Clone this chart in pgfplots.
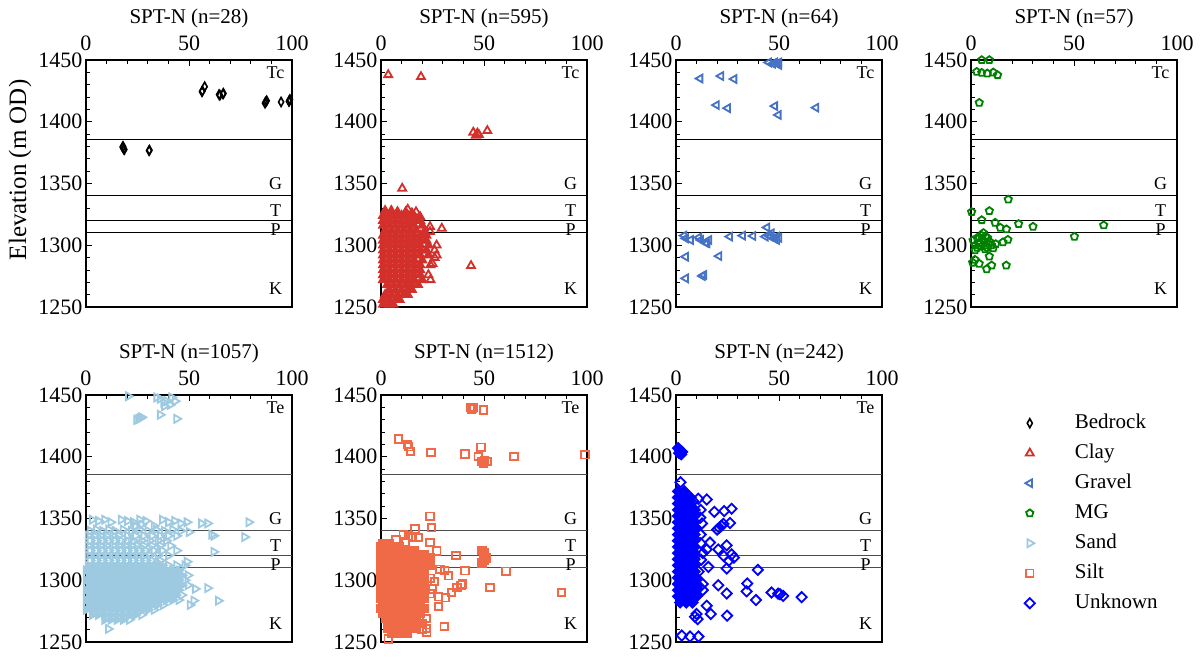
\documentclass[border=0pt]{standalone}
\usepackage{fontspec}
\setmainfont{Liberation Serif}
\usepackage{pgfplots}
\pgfplotsset{compat=1.18}
\definecolor{cBed}{HTML}{000000}
\definecolor{cClay}{HTML}{D3302B}
\definecolor{cGravel}{HTML}{4472C4}
\definecolor{cMG}{HTML}{008000}
\definecolor{cSand}{HTML}{9ECAE1}
\definecolor{cSilt}{HTML}{F06A48}
\definecolor{cUnk}{HTML}{0000FF}
\newcommand{\fs}[1]{\fontsize{#1}{#1}\selectfont}
\pgfplotsset{
  spt/.style={scale only axis,width=206pt,height=247pt,
    xmin=0,xmax=100,ymin=1250,ymax=1450,
    xtick={0,50,100},ytick={1250,1300,...,1450},
    minor x tick num=4,minor y tick num=4,
    xtick pos=right,xticklabel pos=right,ytick pos=left,
    tick align=inside,major tick length=6pt,minor tick length=4pt,
    axis line style={line width=1.2pt},tick style={line width=0.9pt,black},
    /pgf/number format/assume math mode=true,/pgf/number format/1000 sep={},
    xticklabel={\pgfmathprintnumber{\tick}},yticklabel={\pgfmathprintnumber{\tick}},
    ticklabel style={font=\rmfamily\fs{22}},
    xticklabel style={yshift=6pt},
    title style={font=\fs{21},at={(0.5,1)},anchor=base,yshift=31pt}},
  mBed/.style={only marks,mark=diamond,mark size=4.5pt,mark options={xscale=0.75,draw=cBed,line width=1.6pt}},
  mClay/.style={only marks,mark=triangle,mark size=4.6pt,mark options={draw=cClay,line width=1.8pt}},
  mClayF/.style={only marks,mark=triangle*,mark size=4.6pt,mark options={draw=cClay,fill=cClay,line width=1.8pt}},
  mGravel/.style={only marks,mark=triangle,mark size=4.5pt,mark options={rotate=90,draw=cGravel,line width=1.8pt}},
  mMG/.style={only marks,mark=pentagon,mark size=3.8pt,mark options={draw=cMG,line width=1.8pt}},
  mSand/.style={only marks,mark=triangle,mark size=4.6pt,mark options={rotate=-90,draw=cSand,line width=1.8pt}},
  mSandF/.style={only marks,mark=triangle*,mark size=4.6pt,mark options={rotate=-90,draw=cSand,fill=cSand,line width=1.8pt}},
  mSilt/.style={only marks,mark=square,mark size=3.7pt,mark options={draw=cSilt,line width=1.8pt}},
  mSiltF/.style={only marks,mark=square*,mark size=3.7pt,mark options={draw=cSilt,fill=cSilt,line width=1.8pt}},
  mUnk/.style={only marks,mark=square,mark size=3.6pt,mark options={rotate=45,draw=cUnk,line width=1.8pt}},
  mUnkF/.style={only marks,mark=square*,mark size=3.6pt,mark options={rotate=45,draw=cUnk,fill=cUnk,line width=1.8pt}},
}
\tikzset{lab/.style={font=\fs{18},inner sep=0pt}}
\newcommand{\strata}[2]{%
  \addplot[draw=#2,line width=0.9pt] coordinates {(0,1386)(100,1386)};
  \addplot[draw=#2,line width=0.9pt] coordinates {(0,1340)(100,1340)};
  \addplot[draw=#2,line width=0.9pt] coordinates {(0,1320)(100,1320)};
  \addplot[draw=#2,line width=0.9pt] coordinates {(0,1310)(100,1310)};
  \node[lab] at (axis cs:92,1440){#1};
  \node[lab] at (axis cs:92,1350){G};
  \node[lab] at (axis cs:92,1328){T};
  \node[lab] at (axis cs:92,1313){P};
  \node[lab] at (axis cs:92,1265){K};
}
\begin{document}
\begin{tikzpicture}
\path[use as bounding box] (0,0) rectangle (1202pt,-659pt);
% Bedrock
\begin{axis}[spt,at={(86pt,-60pt)},anchor=north west,title={SPT-N (n=28)},
  ylabel={Elevation (m OD)},ylabel style={font=\fs{25},at={(axis description cs:-0.32,0.555)},anchor=center}]
\addplot[mBed] coordinates {(17.8,1379.5)(18.3,1378)(18.6,1377.5)(18.0,1380)(30.6,1376.6)(30.8,1377)
 (56.3,1424.3)(57.6,1428.4)(56.5,1425)(64.6,1422)(66.7,1423)(65,1421.5)(66.5,1422.5)
 (86.9,1415)(87.7,1417)(87.2,1416)(94.7,1416)(98.7,1417)(99,1418)(98.5,1416.5)};
\strata{Tc}{black}
\end{axis}
% Clay
\begin{axis}[spt,at={(381pt,-60pt)},anchor=north west,title={SPT-N (n=595)}]
\addplot[mClayF] coordinates {
 (2,1328)(5,1328)(8,1327)(12,1327)(15,1326)
 (1,1324)(4,1324)(7,1324)(10,1324)(13,1324)(16,1324)(19,1323)
 (1,1320)(4,1320)(7,1320)(10,1320)(13,1320)(16,1320)(19,1320)
 (1,1316)(4,1316)(7,1316)(10,1316)(13,1316)(16,1316)(20,1316)
 (2,1312)(5,1312)(8,1312)(11,1312)(14,1312)(17,1312)(21,1311)
 (1,1308)(4,1308)(7,1308)(10,1308)(13,1308)(16,1308)(19,1308)(22,1308)
 (1,1304)(4,1304)(7,1304)(10,1304)(13,1304)(16,1304)(19,1304)(22,1304)
 (1,1300)(4,1300)(7,1300)(10,1300)(13,1300)(16,1300)(19,1300)(23,1300)
 (1,1296)(4,1296)(7,1296)(10,1296)(13,1296)(16,1296)(19,1296)(22,1296)
 (1,1292)(4,1292)(7,1292)(10,1292)(13,1292)(16,1292)(19,1292)(23,1292)
 (1,1288)(4,1288)(7,1288)(10,1288)(13,1288)(16,1288)(20,1288)
 (1,1284)(4,1284)(7,1284)(10,1284)(13,1284)(16,1284)(19,1284)
 (1,1280)(4,1280)(7,1280)(10,1280)(13,1280)(16,1280)(19,1280)
 (1,1276)(4,1276)(7,1276)(10,1276)(13,1276)(16,1276)(19,1276)
 (1,1272)(4,1272)(7,1272)(10,1272)(13,1272)(16,1272)(20,1272)
 (3,1268)(6,1268)(9,1268)(12,1268)(15,1268)(18,1268)
 (4,1264)(7,1264)(10,1264)(13,1264)(15,1264)
 (2,1260)(5,1260)(8,1260)(11,1260)(13,1260)
 (1,1256)(4,1256)(7,1256)(9,1256)
 (1,1252)(4,1252)(6,1252)};
\addplot[mClay] coordinates {
 (3.5,1438)(19.4,1436.4)(44.8,1391.4)(46.8,1390.6)(51.6,1392.7)(46.1,1389)(47.5,1389.5)
 (10.3,1346)(43.7,1283.4)(23.8,1315)(29.5,1313.6)(23.8,1311)(27,1300)(26,1296)(27,1292)(26,1290)
 (25,1285)(24,1284)(23,1276)(24,1272)(14,1266)(17,1327)(13,1329)};
\strata{Tc}{black}
\end{axis}
% Gravel
\begin{axis}[spt,at={(676pt,-60pt)},anchor=north west,title={SPT-N (n=64)}]
\addplot[mGravel] coordinates {
 (11.7,1435)(21.8,1437)(28.2,1434.6)(19.7,1413.5)(25.1,1411)(48,1412.7)(49.7,1405.5)(68,1411.4)
 (45,1448)(47,1447)(48,1448)(49,1447)(50,1446)(50,1448)
 (3.9,1307.8)(4.7,1305.6)(7.1,1304.3)(11.1,1306.3)(12,1304.3)(14.4,1302)(16,1304.3)(15.2,1301.6)
 (26.1,1307)(32.4,1307.8)(37.4,1307.5)(43.4,1307)(44.2,1314.4)(45.8,1307)(47.5,1305.6)(49,1307)
 (49,1304.3)(44.8,1308.3)(46.4,1309.7)(48,1306)(50,1306)
 (4.7,1290.7)(20.9,1291.2)(4.7,1273.2)(12.8,1275.1)(13.6,1276)};
\strata{Tc}{black}
\end{axis}
% MG
\begin{axis}[spt,at={(971pt,-60pt)},anchor=north west,title={SPT-N (n=57)}]
\addplot[mMG] coordinates {
 (5.2,1450)(8.9,1450)(2.8,1440.5)(5.2,1439.7)(7.9,1439.2)(10.8,1440)(12.9,1437.8)(4,1415.4)
 (18.1,1337.1)(0.3,1327)(8.9,1327.8)(5.2,1320.4)(11.7,1318.3)(14.2,1314.3)(17.2,1313)
 (23.1,1317.3)(30.1,1315.1)(64.4,1316.2)(50.2,1307)
 (1,1304)(2,1300)(3,1306)(4,1302)(5,1308)(6,1304)(7,1300)(8,1306)(9,1303)(3,1298)(5,1299)
 (10,1300)(12,1301)(6,1310)(2,1296)(8,1298)(4,1306)(7,1307)
 (15.5,1302.5)(17.9,1304.5)(10.8,1297.7)(6.8,1296.9)
 (8.9,1291)(1.9,1288.3)(4,1285.1)(7.6,1280.7)(10,1283.7)(17.1,1283.7)(0.8,1286)};
\strata{Tc}{black}
\end{axis}
% Sand
\begin{axis}[spt,at={(86pt,-395pt)},anchor=north west,title={SPT-N (n=1057)}]
\addplot[mSand] coordinates {
 (20.5,1449)(34.3,1448)(36,1447)(39.2,1445)(40.8,1442)(43.2,1445)(37.6,1444)(41.6,1448)(38,1441)
 (26.2,1431.2)(24.6,1429.9)(27,1432)(25.5,1430.5)(36,1434)(44,1430.7)
 (3,1349)(6,1348)(9,1349)(12,1347)(17,1349)(20,1348)(23,1347)(26,1349)(29,1348)(37,1349)(40,1347)
 (43,1348)(46,1346)(49,1347)(24,1344)(27,1345)(33,1344)(56,1346)(59,1346)(79,1347)
 (2,1340)(5,1341)(8,1340)(11,1341)(14,1340)(18,1341)(22,1340)(26,1341)(30,1340)(34,1341)(38,1340)
 (42,1341)(46,1340)(50,1339)(62,1336)(77,1335)(61,1337)
 (1,1336)(4,1336)(7,1336)(10,1336)(13,1336)(16,1336)(20,1336)(24,1336)(28,1336)(32,1336)(36,1336)(40,1336)(44,1336)
 (2,1332)(5,1332)(8,1332)(11,1332)(14,1332)(17,1332)(20,1332)(23,1332)(27,1332)(31,1332)(35,1332)(39,1332)
 (1,1328)(4,1328)(7,1328)(10,1328)(13,1328)(16,1328)(19,1328)(22,1328)(25,1328)(28,1328)(32,1328)(36,1328)(41,1328)
 (2,1324)(5,1324)(8,1324)(11,1324)(14,1324)(17,1324)(20,1324)(23,1324)(26,1324)(29,1324)(33,1324)(37,1324)(44,1324)(62,1323)
 (1,1320)(4,1320)(7,1320)(10,1320)(13,1320)(16,1320)(19,1320)(22,1320)(25,1320)(28,1320)(31,1320)(35,1320)(40,1320)
 (2,1316)(5,1316)(8,1316)(11,1316)(14,1316)(17,1316)(20,1316)(23,1316)(26,1316)(29,1316)(32,1316)(36,1316)(49,1315)
 (40,1312)(44,1312)(48,1312)(53,1293)(59,1293.6)(52.3,1283.5)(64.2,1283.4)(50.5,1280)(10.8,1260.6)
 (49.5,1304)(49.5,1296)(48,1300)(46.5,1288)(45,1284)(37.5,1280)(33,1276)(27,1272)(21,1268)};
\addplot[mSandF] coordinates {
 (1,1312)(4,1312)(7,1312)(10,1312)(13,1312)(16,1312)(19,1312)(22,1312)(25,1312)(28,1312)(31,1312)(34,1312)(37,1312)
 (0,1308)(3,1308)(6,1308)(9,1308)(12,1308)(15,1308)(18,1308)(21,1308)(24,1308)(27,1308)(30,1308)(33,1308)(36,1308)(39,1308)(42,1308)(45,1308)
 (1.5,1304)(4.5,1304)(7.5,1304)(10.5,1304)(13.5,1304)(16.5,1304)(19.5,1304)(22.5,1304)(25.5,1304)(28.5,1304)(31.5,1304)(34.5,1304)(37.5,1304)(40.5,1304)(43.5,1304)(46.5,1304)
 (0,1300)(3,1300)(6,1300)(9,1300)(12,1300)(15,1300)(18,1300)(21,1300)(24,1300)(27,1300)(30,1300)(33,1300)(36,1300)(39,1300)(42,1300)(45,1300)
 (1.5,1296)(4.5,1296)(7.5,1296)(10.5,1296)(13.5,1296)(16.5,1296)(19.5,1296)(22.5,1296)(25.5,1296)(28.5,1296)(31.5,1296)(34.5,1296)(37.5,1296)(40.5,1296)(43.5,1296)(46.5,1296)
 (0,1292)(3,1292)(6,1292)(9,1292)(12,1292)(15,1292)(18,1292)(21,1292)(24,1292)(27,1292)(30,1292)(33,1292)(36,1292)(39,1292)(42,1292)(45,1292)
 (1.5,1288)(4.5,1288)(7.5,1288)(10.5,1288)(13.5,1288)(16.5,1288)(19.5,1288)(22.5,1288)(25.5,1288)(28.5,1288)(31.5,1288)(34.5,1288)(37.5,1288)(40.5,1288)(43.5,1288)
 (0,1284)(3,1284)(6,1284)(9,1284)(12,1284)(15,1284)(18,1284)(21,1284)(24,1284)(27,1284)(30,1284)(33,1284)(36,1284)(39,1284)(42,1284)
 (1.5,1280)(4.5,1280)(7.5,1280)(10.5,1280)(13.5,1280)(16.5,1280)(19.5,1280)(22.5,1280)(25.5,1280)(28.5,1280)(31.5,1280)(34.5,1280)
 (0,1276)(3,1276)(6,1276)(9,1276)(12,1276)(15,1276)(18,1276)(21,1276)(24,1276)(27,1276)(30,1276)
 (3,1272)(6,1272)(9,1272)(12,1272)(15,1272)(18,1272)(21,1272)(24,1272)
 (9,1268)(12,1268)(15,1268)(18,1268)};
\strata{Te}{black!70}
\end{axis}
% Silt
\begin{axis}[spt,at={(381pt,-395pt)},anchor=north west,title={SPT-N (n=1512)}]
\addplot[mSilt] coordinates {
 (43.5,1440)(44.5,1439)(45,1440)(44,1438.5)(49.7,1437.9)
 (8.4,1414.3)(12.9,1409.7)(13.5,1408)(14.4,1404.3)(24.3,1403.5)(40.8,1402.2)(48.5,1407.8)(47.2,1400.3)
 (48.7,1396.3)(50.3,1397)(51.5,1396.3)(49.7,1395)(64.6,1400.3)(99,1401.6)
 (23.8,1351.9)(24.6,1342.5)(16.5,1341.7)(10.8,1337.2)(7.3,1333)(13.3,1336)(15.2,1334.6)(18.1,1334.6)
 (11.8,1330.6)(23.8,1330.6)(27.1,1323.7)(36.4,1320.2)
 (28.6,1309)(31,1308)(40.8,1307.6)(60.7,1307.4)(32.7,1303.6)(23.8,1301.7)(38.8,1296)(36.9,1294)
 (34.3,1290)(31.2,1285.8)(28,1286.6)(28,1278.8)(30.7,1262.7)(22.2,1257.9)(19.9,1260.6)(3.5,1252.5)
 (52.9,1294.1)(87.7,1290)(39.4,1297)(26,1299)(25,1293)(24,1289)(22,1269)(22,1261)};
\addplot[mSiltF] coordinates {
 (49,1324)(50,1320)(50,1316)(49,1314)(51,1318)(50,1322)
 (1,1330)(4,1330)
 (0,1327)(3,1327)(6,1327)(9,1327)
 (1,1324)(4,1324)(7,1324)(10,1324)(13,1324)(16,1324)
 (0,1321)(3,1321)(6,1321)(9,1321)(12,1321)(15,1321)(18,1321)(21,1321)
 (1,1318)(4,1318)(7,1318)(10,1318)(13,1318)(16,1318)(19,1318)(22,1318)(24,1318)
 (0,1315)(3,1315)(6,1315)(9,1315)(12,1315)(15,1315)(18,1315)(21,1315)(24,1315)
 (1,1312)(4,1312)(7,1312)(10,1312)(13,1312)(16,1312)(19,1312)(22,1312)(24,1312)
 (0,1309)(3,1309)(6,1309)(9,1309)(12,1309)(15,1309)(18,1309)(21,1309)
 (1,1305)(4,1305)(7,1305)(10,1305)(13,1305)(16,1305)(19,1305)
 (0,1301)(3,1301)(6,1301)(9,1301)(12,1301)(15,1301)(18,1301)(21,1301)
 (1,1297)(4,1297)(7,1297)(10,1297)(13,1297)(16,1297)(19,1297)
 (0,1293)(3,1293)(6,1293)(9,1293)(12,1293)(15,1293)(18,1293)(21,1293)
 (1,1289)(4,1289)(7,1289)(10,1289)(13,1289)(16,1289)(19,1289)
 (0,1285)(3,1285)(6,1285)(9,1285)(12,1285)(15,1285)(18,1285)(21,1285)
 (1,1281)(4,1281)(7,1281)(10,1281)(13,1281)(16,1281)(19,1281)
 (0,1277)(3,1277)(6,1277)(9,1277)(12,1277)(15,1277)(18,1277)(21,1277)
 (1,1273)(4,1273)(7,1273)(10,1273)(13,1273)(16,1273)(19,1273)
 (2,1269)(5,1269)(8,1269)(11,1269)(14,1269)(17,1269)
 (3,1265)(6,1265)(9,1265)(12,1265)(15,1265)(18,1265)(20,1265)
 (3,1261)(6,1261)(9,1261)(12,1261)(15,1261)(17,1261)
 (5,1257)(8,1257)(11,1257)(13,1257)};
\strata{Te}{black!70}
\end{axis}
% Unknown
\begin{axis}[spt,at={(676pt,-395pt)},anchor=north west,title={SPT-N (n=242)}]
\addplot[mUnk] coordinates {
 (2.2,1379.4)
 (8.4,1364)(10.8,1366)(14.9,1365.4)(18.6,1355.4)(23.4,1356)(27,1357.9)
 (11.8,1350.7)(12.6,1346)(21,1342.5)(23,1345.6)(26.2,1346.4)(22,1344)(20,1341)
 (16.5,1330.5)(24.6,1328.3)(20.5,1325)(14.9,1325)(13,1322)(27,1321)(28.1,1318.3)(23.2,1319.6)(25.6,1315.7)
 (15.7,1310.8)(24.6,1309.5)(39.7,1308.4)(12.2,1316.6)(12,1330)
 (20.5,1296)(24.6,1289.3)(34.6,1297.4)(34.3,1291)(38.8,1284)(46.4,1290.1)(49.6,1289.2)(52,1287.3)(50.5,1288.7)(61,1286.3)
 (14.9,1279.4)(16.9,1272.7)(10,1272.7)(9.2,1270.5)(10.5,1268.5)(24.8,1271.3)
 (2.8,1255.2)(6.8,1254.4)(10.9,1254.4)(12,1357)(12,1337)(13,1297)(13,1292)(11,1307)};
\addplot[mUnkF] coordinates {
 (1,1407)(2,1405)(2.5,1402)(1.5,1403)(3,1404)
 (1,1372)(4,1372)
 (1,1367)(4,1367)(7,1367)
 (1,1362)(4,1362)(7,1362)
 (1,1357)(4,1357)(7,1357)(9,1357)
 (1,1352)(4,1352)(7,1352)(9,1352)
 (1,1347)(4,1347)(7,1347)(9,1347)
 (1,1342)(4,1342)(7,1342)(9,1342)
 (1,1337)(4,1337)(7,1337)(9,1337)
 (1,1332)(4,1332)(7,1332)(9,1332)
 (1,1327)(4,1327)(7,1327)(9,1327)
 (1,1322)(4,1322)(7,1322)(9,1322)
 (1,1317)(4,1317)(7,1317)(9,1317)
 (1,1312)(4,1312)(7,1312)(9,1312)
 (1,1307)(4,1307)(7,1307)(9,1307)
 (1,1302)(4,1302)(7,1302)(10,1302)
 (1,1297)(4,1297)(7,1297)(10,1297)
 (1,1292)(4,1292)(7,1292)(10,1292)
 (1,1287)(4,1287)(7,1287)(10,1287)
 (2,1282)(5,1282)(8,1282)};
\strata{Te}{black!70}
\end{axis}
% Legend
\begin{axis}[hide axis,scale only axis,width=100pt,height=100pt,at={(1024.5pt,-414pt)},anchor=north west,
  xmin=0,xmax=1,ymin=0,ymax=1,
  legend style={at={(0,1)},anchor=north west,draw=none,fill=none,inner sep=0pt,
    font=\fs{21},row sep=12pt,
    nodes={inner sep=0pt,text height=14pt,text depth=4pt},
    /tikz/every odd column/.append style={column sep=40pt}},
  legend cell align=left]
\addlegendimage{mBed}\addlegendentry{Bedrock}
\addlegendimage{mClay}\addlegendentry{Clay}
\addlegendimage{mGravel}\addlegendentry{Gravel}
\addlegendimage{mMG}\addlegendentry{MG}
\addlegendimage{mSand}\addlegendentry{Sand}
\addlegendimage{mSilt}\addlegendentry{Silt}
\addlegendimage{mUnk}\addlegendentry{Unknown}
\end{axis}
\end{tikzpicture}
\end{document}
